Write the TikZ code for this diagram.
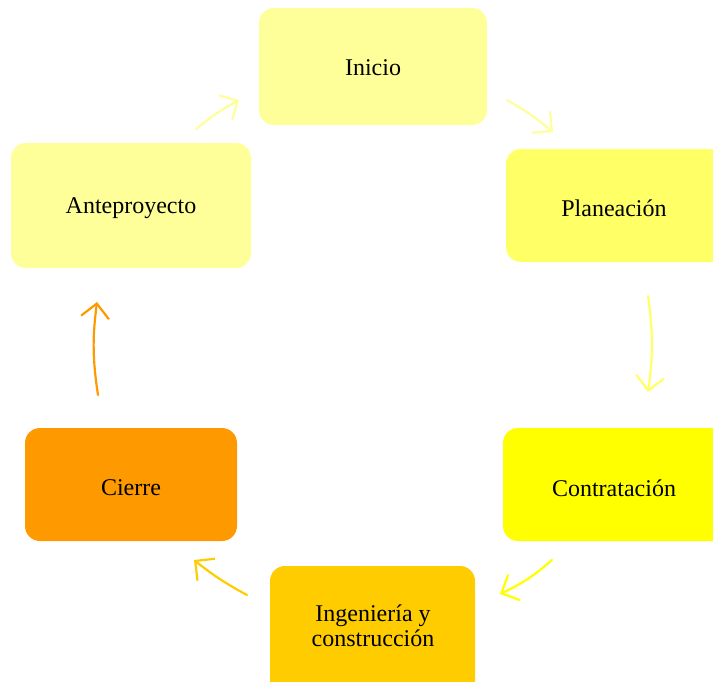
\documentclass[tikz,border=0pt]{standalone}
\usepackage{fontspec}
\setmainfont{Liberation Serif}
\usetikzlibrary{arrows.meta}
\definecolor{paleY}{HTML}{FFFF99}
\definecolor{lightY}{HTML}{FFFF66}
\definecolor{pureY}{HTML}{FFFF00}
\definecolor{goldY}{HTML}{FFCC00}
\definecolor{orangeY}{HTML}{FF9900}
\begin{document}
\begin{tikzpicture}[x=1pt,y=-1pt,
  phase/.style={rounded corners=15pt, inner sep=0pt, font=\fontsize{24}{25}\selectfont, align=center},
  flow/.style={line width=2.2pt, line cap=round, line join=round,
    -{Straight Barb[length=14pt,width=28pt,line width=2.2pt]}}]
\useasboundingbox (0,0) rectangle (713,681);
\clip (0,0) rectangle (713,681);
% phase boxes
\fill[paleY, rounded corners=15pt] (259,8) rectangle (487,125);
\node[phase] (inicio) at (373,68) {Inicio};
\fill[lightY, rounded corners=15pt] (506,149) rectangle (740,262);
\node[phase] (plan) at (614,208) {Planeación};
\fill[pureY, rounded corners=15pt] (503,428) rectangle (740,541);
\node[phase] (contr) at (614,488) {Contratación};
\fill[goldY, rounded corners=15pt] (270,566) rectangle (475,700);
\node[phase] (ing) at (373,626) {Ingeniería y\\construcción};
\fill[orangeY, rounded corners=15pt] (25,428) rectangle (237,541);
\node[phase] (cierre) at (131,488) {Cierre};
\fill[paleY, rounded corners=15pt] (11,143) rectangle (251,268);
\node[phase] (ante) at (131,208) {Anteproyecto};
% arrow end points
\coordinate (a1s) at (196,129); \coordinate (a1e) at (239,100);
\coordinate (a2s) at (507,100); \coordinate (a2e) at (553,132);
\coordinate (a3s) at (648,296); \coordinate (a3e) at (648,392);
\coordinate (a4s) at (552,560); \coordinate (a4e) at (500,594);
\coordinate (a5s) at (247,595); \coordinate (a5e) at (194,560);
\coordinate (a6s) at (98,395);  \coordinate (a6e) at (97,302);
% cycle arrows
\draw[flow, paleY] (a1s) to[bend left=5] (a1e);
\draw[flow, paleY] (a2s) to[bend left=5] (a2e);
\draw[flow, lightY] (a3s) to[bend left=8] (a3e);
\draw[flow, pureY] (a4s) to[bend left=8] (a4e);
\draw[flow, goldY] (a5s) to[bend left=5] (a5e);
\draw[flow, orangeY] (a6s) to[bend left=8] (a6e);
\end{tikzpicture}
\end{document}
